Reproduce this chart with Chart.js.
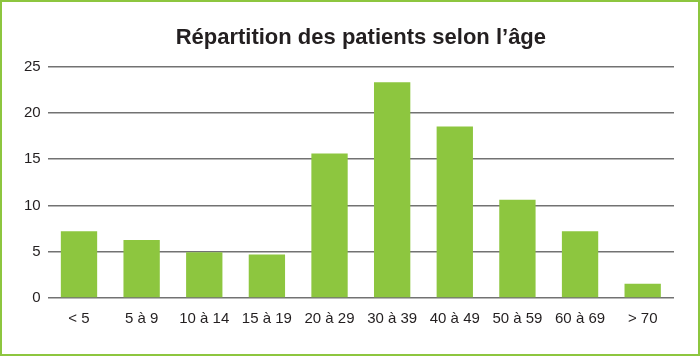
<!DOCTYPE html>
<html><head><meta charset="utf-8">
<script src="https://cdn.jsdelivr.net/npm/chart.js@4/dist/chart.umd.min.js"></script>
<style>html,body{margin:0;padding:0;background:#fff;}#wrap{width:700px;height:356px;position:relative;}</style>
</head><body><div id="wrap"><canvas id="c" width="700" height="356"></canvas></div>
<script>
const categories = ["< 5","5 à 9","10 à 14","15 à 19","20 à 29","30 à 39","40 à 49","50 à 59","60 à 69","> 70"];
const patients = [7.2, 6.25, 4.95, 4.7, 15.6, 23.3, 18.5, 10.6, 7.2, 1.55];
const yTicks = [0, 5, 10, 15, 20, 25];
const title = "Répartition des patients selon l’âge";

const frame = {
  id: 'frame',
  afterDraw(chart) {
    const ctx = chart.ctx;
    ctx.save();
    ctx.strokeStyle = '#8dc63f';
    ctx.lineWidth = 2;
    ctx.strokeRect(1, 1, chart.width - 2, chart.height - 2);
    ctx.restore();
  }
};

new Chart(document.getElementById('c'), {
  type: 'bar',
  data: { labels: categories, datasets: [{ data: patients, backgroundColor: '#8dc63f', categoryPercentage: 1, barPercentage: 0.58 }] },
  options: {
    responsive: false, animation: false,
    layout: { padding: { left: 17, right: 26, top: 15, bottom: 16 } },
    plugins: {
      legend: { display: false }, tooltip: { enabled: false },
      title: { display: true, fullSize: false, text: title, color: '#231f20', font: { family: 'Liberation Sans', size: 22, weight: 'bold' }, padding: { top: 10, bottom: 15 } }
    },
    scales: {
      x: { grid: { display: false, drawTicks: false }, border: { display: false },
           ticks: { color: '#231f20', font: { family: 'Liberation Sans', size: 15 }, padding: 12, maxRotation: 0, autoSkip: false } },
      y: { min: 0, max: 25, afterBuildTicks: s => { s.ticks = yTicks.map(v => ({ value: v })); },
           grid: { color: '#727272', lineWidth: 1.5, drawTicks: false }, border: { display: false },
           ticks: { color: '#231f20', font: { family: 'Liberation Sans', size: 15 }, padding: 7 } }
    }
  },
  plugins: [frame]
});
</script></body></html>
